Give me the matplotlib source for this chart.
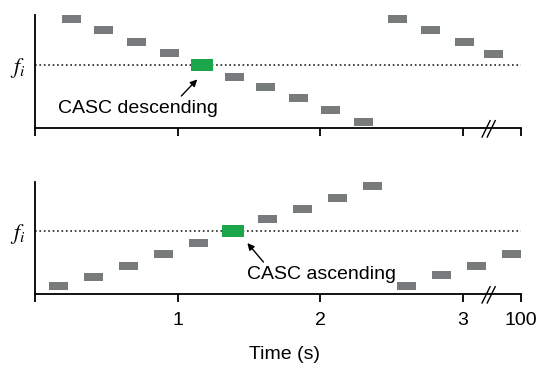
import matplotlib
matplotlib.use("Agg")
import matplotlib.pyplot as plt
import matplotlib.transforms as mtransforms

plt.rcParams['font.family'] = ['Liberation Sans', 'DejaVu Sans']
plt.rcParams['mathtext.fontset'] = 'stix'

# ---- data ----
# top panel (descending), start times (s), centre frequency (arb. units)
desc_t = [0.189, 0.414, 0.646, 0.877, 1.333, 1.551, 1.782, 2.007, 2.239,
          2.477, 2.709, 2.947, 3.151]
desc_f = [9.65, 8.67, 7.61, 6.64, 4.51, 3.63, 2.65, 1.59, 0.53,
          9.65, 8.67, 7.61, 6.55]
desc_green_t = 1.095
desc_fi = 5.58

# bottom panel (ascending)
asc_t = [0.098, 0.344, 0.589, 0.835, 1.081, 1.565, 1.811, 2.056, 2.302,
         2.540, 2.786, 3.032, 3.277]
asc_f = [0.71, 1.52, 2.50, 3.57, 4.55, 6.70, 7.59, 8.57, 9.64,
         0.71, 1.70, 2.50, 3.57]
asc_green_t = 1.312
asc_fi = 5.63

tick_pos = [0, 1, 2, 3, 3.41]
tick_labels = ["", "1", "2", "3", "100"]
break_x = 3.18

bar_w = 0.133
bar_h = 0.71
green_w = 0.154
green_h = 1.06
gray = "#787b7b"
green = "#1ca64c"

fig = plt.figure(figsize=(5.56, 3.65), dpi=100)
ax1 = fig.add_axes([35/556, 1-128/365, (521-35)/556, 113/365])
ax2 = fig.add_axes([35/556, 1-294/365, (521-35)/556, 112/365])


def style(ax, fi, show_labels):
    ax.set_xlim(0, 3.41)
    ax.set_ylim(0, 10)
    for s in ['top', 'right']:
        ax.spines[s].set_visible(False)
    for s in ['left', 'bottom']:
        ax.spines[s].set_linewidth(1.3)
    ax.set_xticks(tick_pos)
    ax.set_xticklabels(tick_labels if show_labels else [""] * len(tick_pos),
                       fontsize=14)
    ax.tick_params(axis='x', direction='out', length=6, width=1.3, pad=7)
    ax.set_yticks([fi])
    ax.set_yticklabels([r'$f_i$'], fontsize=16)
    ax.tick_params(axis='y', length=0, pad=7)
    ax.plot([0, 3.41], [fi, fi], linestyle=':', color='#222222', lw=1.2)
    tr = mtransforms.blended_transform_factory(ax.transData, ax.transAxes)
    for dx in (0.0, 0.036):
        ax.plot([break_x - 0.043 + dx, break_x + 0.013 + dx], [-0.08, 0.065],
                color='black', lw=1.0, transform=tr, clip_on=False)


def bars(ax, ts, fs, gt, fi):
    ax.bar(ts, [bar_h] * len(ts), width=bar_w,
           bottom=[f - bar_h / 2 for f in fs], align='edge', color=gray,
           linewidth=0)
    ax.bar([gt], [green_h], width=green_w, bottom=[fi - green_h / 2],
           align='edge', color=green, linewidth=0, zorder=3)


bars(ax1, desc_t, desc_f, desc_green_t, desc_fi)
bars(ax2, asc_t, asc_f, asc_green_t, asc_fi)
style(ax1, desc_fi, False)
style(ax2, asc_fi, True)

ax1.annotate("CASC descending", xy=(1.138, 4.3), xytext=(0.16, 1.35),
             fontsize=14, ha='left', va='baseline',
             arrowprops=dict(arrowstyle='-|>', color='black', lw=1.0,
                             shrinkA=1, shrinkB=0, mutation_scale=10,
                             relpos=(0.75, 1.0)),
             )
ax2.annotate("CASC ascending", xy=(1.49, 4.55), xytext=(1.49, 1.35),
             fontsize=14, ha='left', va='baseline',
             arrowprops=dict(arrowstyle='-|>', color='black', lw=1.0,
                             shrinkA=1, shrinkB=0, mutation_scale=10,
                             relpos=(0.13, 1.0)),
             )

ax2.set_xlabel("Time (s)", fontsize=14)
ax2.xaxis.set_label_coords(0.514, -0.46)

fig.savefig("out.png", dpi=100)
